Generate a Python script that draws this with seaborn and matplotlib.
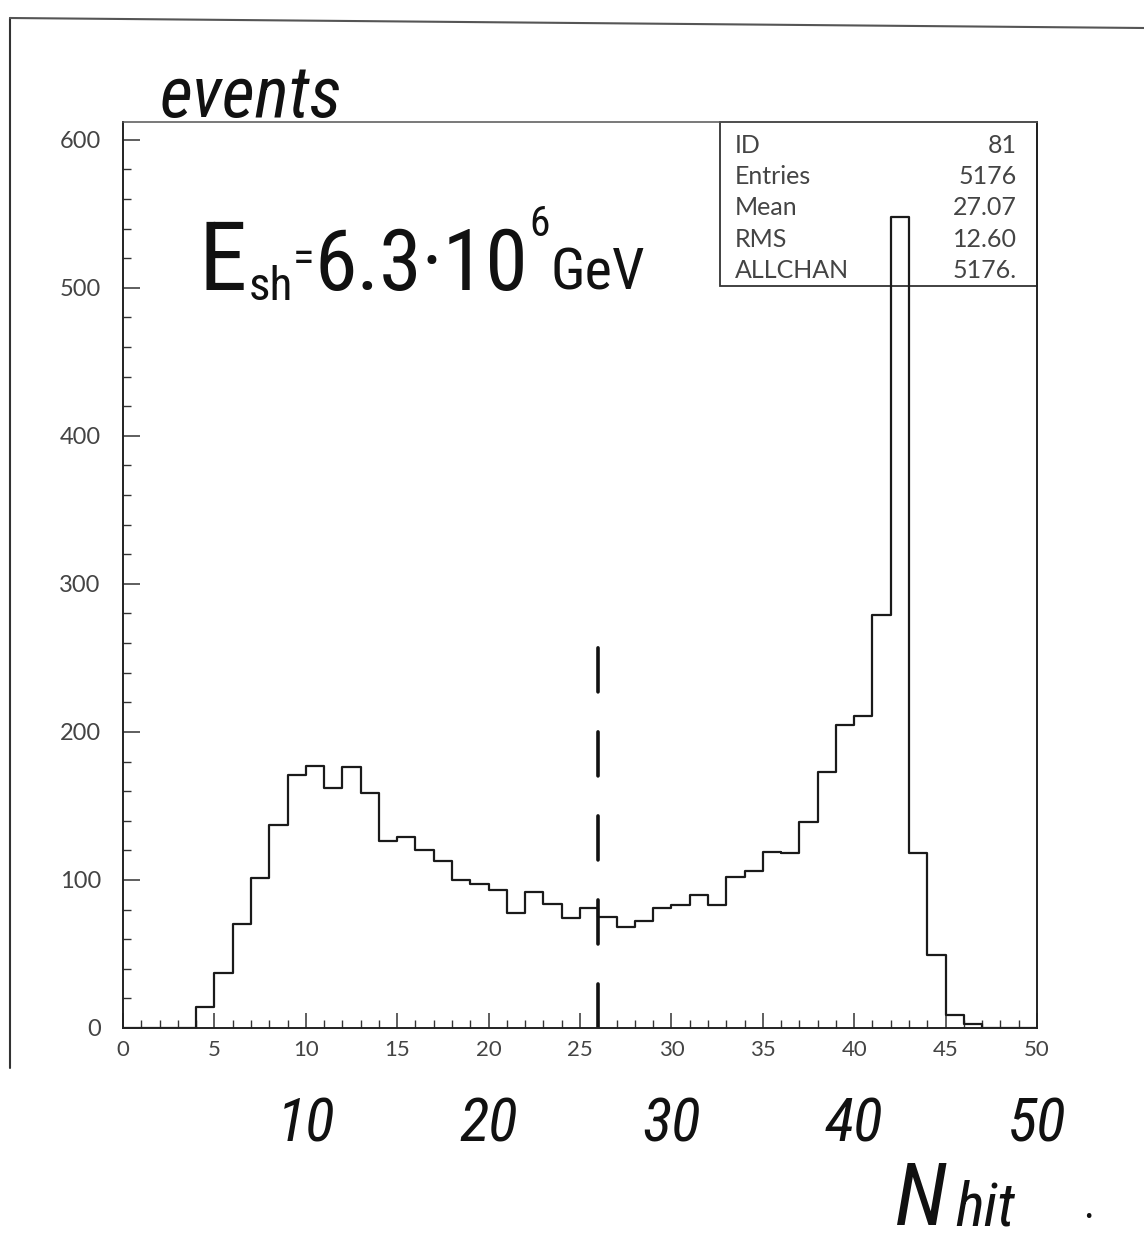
import matplotlib
matplotlib.use("Agg")
import matplotlib.pyplot as plt
from matplotlib.lines import Line2D
from matplotlib.patches import Rectangle
from matplotlib.ticker import MultipleLocator
import numpy as np
import pandas as pd
import seaborn as sns

# Number of fired channels per event, 1-unit bins from 0 to 50
bin_edges = list(range(0, 51))
nhit = list(range(0, 50))
events = [0, 0, 0, 0, 14, 37, 70, 101, 137, 171,
          177, 162, 176, 159, 126, 129, 120, 113, 100, 97,
          93, 78, 92, 84, 74, 81, 75, 68, 72, 81,
          83, 90, 83, 102, 106, 119, 118, 139, 173, 205,
          211, 279, 548, 118, 49, 9, 3, 0, 0, 0]

x_ticks = [0, 5, 10, 15, 20, 25, 30, 35, 40, 45, 50]
y_ticks = [0, 100, 200, 300, 400, 500, 600]
hand_ticks = [10, 20, 30, 40, 50]

stat_names = ["ID", "Entries", "Mean", "RMS", "ALLCHAN"]
stat_values = ["81", "5176", "27.07", "12.60", "5176."]

# hand-drawn threshold marker
cut_nhit = 26
cut_top = 261

sns.set_style("ticks")
plt.rcParams["font.family"] = ["Lato", "DejaVu Sans"]
plt.rcParams["lines.scale_dashes"] = False

W, H = 1144, 1247
fig = plt.figure(figsize=(W / 100, H / 100), dpi=100)
fig.patch.set_facecolor("white")
ax = fig.add_axes([123 / W, 1 - 1028 / H, 914 / W, 906 / H])


def page(x, y):
    """Pixel position on the sheet -> figure fraction."""
    return x / W, 1 - y / H


df = pd.DataFrame({"nhit": np.asarray(nhit) + 0.5, "events": events})
sns.histplot(data=df, x="nhit", weights="events", bins=bin_edges,
             element="step", fill=False, color="#1a1a1a", linewidth=1.6,
             ax=ax)

ax.set_xlim(0, 50)
ax.set_ylim(0, 612)
ax.set_xlabel("")
ax.set_ylabel("")
ax.set_xticks(x_ticks)
ax.set_yticks(y_ticks)
ax.xaxis.set_minor_locator(MultipleLocator(1))
ax.yaxis.set_minor_locator(MultipleLocator(20))
ax.tick_params(axis="both", which="both", direction="in", top=False,
               right=False, color="#333333")
ax.tick_params(axis="x", which="major", length=11, width=1.1, pad=9,
               labelsize=16, labelcolor="#444444")
ax.tick_params(axis="x", which="minor", length=6, width=1.0)
ax.tick_params(axis="y", which="major", length=12, width=1.1, pad=16,
               labelsize=17, labelcolor="#444444")
ax.tick_params(axis="y", which="minor", length=6, width=1.0)

for side, sp in ax.spines.items():
    sp.set_visible(True)
    sp.set_color("#222222")
    sp.set_linewidth(1.4)
ax.spines["top"].set_color("#555555")
ax.spines["top"].set_linewidth(1.1)

# statistics box
ax.add_patch(Rectangle((0.653, 0.819), 0.347, 0.181, transform=ax.transAxes,
                       fill=False, lw=1.3, ec="#333333", clip_on=False))
for i, (name, val) in enumerate(zip(stat_names, stat_values)):
    yb = 153 + 31.2 * i
    fig.text(*page(735, yb), name, ha="left", va="baseline", fontsize=18,
             color="#444444")
    fig.text(*page(1017, yb), val, ha="right", va="baseline", fontsize=18,
             color="#444444")

# threshold line
ax.plot([cut_nhit, cut_nhit], [0, cut_top], color="#111111", lw=2.6,
        dashes=(31.7, 28.8), solid_capstyle="round", dash_capstyle="round")

# handwritten annotations
hand = dict(family=["Roboto Condensed", "DejaVu Sans"], fontstretch="condensed",
            color="#111111")
fig.text(*page(160, 117), "events", ha="left", va="baseline", fontsize=52,
         style="italic", **hand)
fig.text(*page(199, 290), "E", ha="left", va="baseline", fontsize=70, **hand)
fig.text(*page(249, 300), "sh", ha="left", va="baseline", fontsize=34, **hand)
fig.text(*page(293, 272), "=", ha="left", va="baseline", fontsize=32, **hand)
fig.text(*page(314, 290), "6.3·10", ha="left", va="baseline", fontsize=62, **hand)
fig.text(*page(529, 236), "6", ha="left", va="baseline", fontsize=30, **hand)
fig.text(*page(550, 290), "GeV", ha="left", va="baseline", fontsize=42, **hand)

for t in hand_ticks:
    ax.text(t, -0.125, str(t), transform=ax.get_xaxis_transform(),
            ha="center", va="baseline", fontsize=44, style="italic", **hand)

fig.text(*page(895, 1225), "N", ha="left", va="baseline", fontsize=62,
         style="italic", **hand)
fig.text(*page(955, 1225), "hit", ha="left", va="baseline", fontsize=44,
         style="italic", **hand)
fig.text(*page(1083, 1218), ".", ha="left", va="baseline", fontsize=30, **hand)

# sheet border
fig.add_artist(Line2D([10 / W, 10 / W], [1 - 18 / H, 1 - 1068 / H],
                      color="#333333", lw=1.5))
fig.add_artist(Line2D([10 / W, 1.0], [1 - 18 / H, 1 - 28 / H],
                      color="#555555", lw=1.5))

fig.savefig("out.png", dpi=100, facecolor="white")
